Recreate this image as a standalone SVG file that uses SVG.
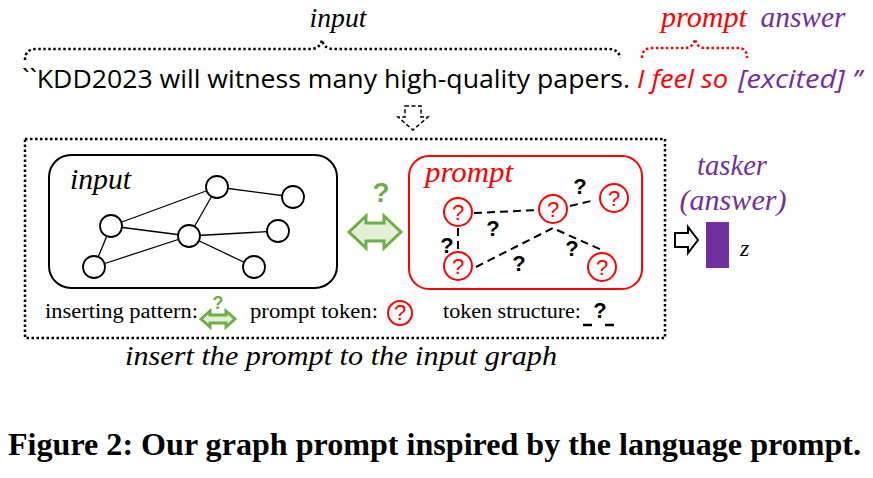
<svg xmlns="http://www.w3.org/2000/svg" width="873" height="478" viewBox="0 0 873 478">
<style>
.ser{font-family:"Liberation Serif","Times New Roman",serif}
.it{font-style:italic}
.sans{font-family:"Open Sans","Liberation Sans",Arial,sans-serif}
.node{fill:#fff;stroke:#000;stroke-width:1.8}
.edge{stroke:#000;stroke-width:1.3;fill:none}
.dash{stroke:#000;stroke-width:2;stroke-dasharray:8 5;fill:none}
.ptok{fill:#fff;stroke:#f00;stroke-width:2}
.ptxt{fill:#f00;font-family:"Liberation Sans",Arial,sans-serif;font-size:22px;text-anchor:middle}
.q{fill:#000;font-family:"Liberation Sans",Arial,sans-serif;font-weight:bold;font-size:22px;text-anchor:middle}
.dot{fill:none;stroke-width:2.5;stroke-dasharray:2.5 2.5}
.garr{fill:#e2f0d9;stroke:#70ad47;stroke-width:3;stroke-linejoin:miter}
.gq{fill:#70ad47;font-family:"Liberation Sans",Arial,sans-serif;font-weight:bold;text-anchor:middle}
</style>

<!-- top sentence -->
<g id="sentence">
<text class="ser it" x="338" y="27" font-size="27" text-anchor="middle" textLength="57" lengthAdjust="spacingAndGlyphs">input</text>
<text class="ser it" x="704" y="27" font-size="29" fill="#f00" text-anchor="middle" textLength="86" lengthAdjust="spacingAndGlyphs">prompt</text>
<text class="ser it" x="803" y="27" font-size="29" fill="#7030a0" text-anchor="middle" textLength="85" lengthAdjust="spacingAndGlyphs">answer</text>
<path class="dot" stroke="#000" d="M25,60 Q25,49 36,49 L310,49 Q320,49 322,40 Q324,49 334,49 L608,49 Q619,49 620,58"/>
<path class="dot" stroke="#f00" d="M642,58 Q642,48 652,48 L685,48 Q693,48 695,39 Q697,48 705,48 L738,48 Q747,48 747,58"/>
<text class="sans" x="22" y="88" font-size="26" textLength="608" lengthAdjust="spacingAndGlyphs">``KDD2023 will witness many high-quality papers.</text>
<text class="sans it" x="637" y="88" font-size="26" fill="#f00" textLength="91" lengthAdjust="spacingAndGlyphs">I feel so</text>
<text class="sans it" x="738" y="88" font-size="26" fill="#7030a0" textLength="124" lengthAdjust="spacingAndGlyphs">[excited] ’’</text>
</g>

<!-- dashed down arrow -->
<g id="down-arrow">
<path d="M405,106 L421,106 L421,117 L428,117 L413,130 L398,117 L405,117 Z" fill="#fff" stroke="#000" stroke-width="1.5" stroke-dasharray="4 2.5"/>
</g>

<!-- outer dotted box -->
<g id="outer-box">
<rect class="dot" stroke="#000" x="25" y="139" width="640" height="199"/>
</g>

<!-- input graph -->
<g id="input-graph">
<rect x="49" y="155" width="288" height="133" rx="22" fill="#fff" stroke="#000" stroke-width="2"/>
<text class="ser it" x="70" y="189" font-size="29" textLength="61" lengthAdjust="spacingAndGlyphs">input</text>
<g>
<line class="edge" x1="111" y1="226" x2="217" y2="187"/>
<line class="edge" x1="217" y1="187" x2="293" y2="197"/>
<line class="edge" x1="217" y1="187" x2="189" y2="236"/>
<line class="edge" x1="111" y1="226" x2="189" y2="236"/>
<line class="edge" x1="189" y1="236" x2="278" y2="231"/>
<line class="edge" x1="111" y1="226" x2="94" y2="267"/>
<line class="edge" x1="94" y1="267" x2="189" y2="236"/>
<line class="edge" x1="189" y1="236" x2="254" y2="267"/>
</g>
<circle class="node" cx="217" cy="187" r="11"/>
<circle class="node" cx="293" cy="197" r="11"/>
<circle class="node" cx="111" cy="226" r="11"/>
<circle class="node" cx="189" cy="236" r="11"/>
<circle class="node" cx="278" cy="231" r="11"/>
<circle class="node" cx="94" cy="267" r="11"/>
<circle class="node" cx="254" cy="267" r="11"/>
</g>

<!-- inserting pattern arrow -->
<g id="insert-arrow">
<text class="gq" x="381" y="202" font-size="28">?</text>
<path class="garr" d="M349,232 L366,216 L366,223 L384,223 L384,216 L401,232 L384,248 L384,241 L366,241 L366,248 Z"/>
</g>

<!-- prompt graph -->
<g id="prompt-graph">
<rect x="409" y="156" width="233" height="133" rx="20" fill="#fff" stroke="#f00" stroke-width="2"/>
<text class="ser it" x="425" y="182" font-size="30" fill="#f00" textLength="88" lengthAdjust="spacingAndGlyphs">prompt</text>
<g>
<line class="dash" x1="474" y1="213" x2="539" y2="210"/>
<line class="dash" x1="570" y1="206" x2="595" y2="200"/>
<line class="dash" x1="458" y1="228" x2="458" y2="252"/>
<line class="dash" x1="476" y1="267" x2="553" y2="228"/>
<line class="dash" x1="557" y1="230" x2="604" y2="251"/>
</g>
<text class="q" x="580" y="194">?</text>
<text class="q" x="493" y="236">?</text>
<text class="q" x="447" y="253">?</text>
<text class="q" x="519" y="271">?</text>
<text class="q" x="572" y="256">?</text>
<g>
<circle class="ptok" cx="458" cy="212" r="14"/><text class="ptxt" x="458" y="220">?</text>
<circle class="ptok" cx="553" cy="209" r="14"/><text class="ptxt" x="553" y="217">?</text>
<circle class="ptok" cx="614" cy="198" r="14"/><text class="ptxt" x="614" y="206">?</text>
<circle class="ptok" cx="458" cy="266" r="14"/><text class="ptxt" x="458" y="274">?</text>
<circle class="ptok" cx="602" cy="267" r="14"/><text class="ptxt" x="602" y="275">?</text>
</g>
</g>

<!-- tasker -->
<g id="tasker">
<text class="ser it" x="732" y="175" font-size="29" fill="#7030a0" text-anchor="middle" textLength="70" lengthAdjust="spacingAndGlyphs">tasker</text>
<text class="ser it" x="733" y="210" font-size="29" fill="#7030a0" text-anchor="middle" textLength="107" lengthAdjust="spacingAndGlyphs">(answer)</text>
<path d="M675,233 L688,233 L688,227 L698,240 L688,253 L688,247 L675,247 Z" fill="#fff" stroke="#000" stroke-width="2"/>
<rect x="706" y="222" width="23" height="46" fill="#7030a0"/>
<text class="ser it" x="740" y="256" font-size="24">z</text>
</g>

<!-- legend -->
<g id="legend">
<text class="ser" x="45" y="318" font-size="20" textLength="153" lengthAdjust="spacingAndGlyphs">inserting pattern:</text>
<text class="gq" x="218" y="309" font-size="18">?</text>
<path class="garr" stroke-width="2.5" d="M201,319 L210,311 L210,315 L226,315 L226,311 L235,319 L226,327 L226,323 L210,323 L210,327 Z"/>
<text class="ser" x="250" y="318" font-size="20" textLength="128" lengthAdjust="spacingAndGlyphs">prompt token:</text>
<circle class="ptok" cx="400" cy="313" r="12"/><text class="ptxt" x="400" y="320" font-size="18">?</text>
<text class="ser" x="443" y="318" font-size="20" textLength="138" lengthAdjust="spacingAndGlyphs">token structure:</text>
<text class="q" x="600" y="318" font-size="22">?</text>
<line x1="583" y1="325" x2="592" y2="325" stroke="#000" stroke-width="2.5"/>
<line x1="605" y1="325" x2="614" y2="325" stroke="#000" stroke-width="2.5"/>
</g>

<text class="ser it" x="341" y="365" font-size="27" text-anchor="middle" textLength="432" lengthAdjust="spacingAndGlyphs">insert the prompt to the input graph</text>

<text class="ser" x="8" y="455" font-size="31" font-weight="bold" textLength="853" lengthAdjust="spacingAndGlyphs">Figure 2: Our graph prompt inspired by the language prompt.</text>
</svg>
